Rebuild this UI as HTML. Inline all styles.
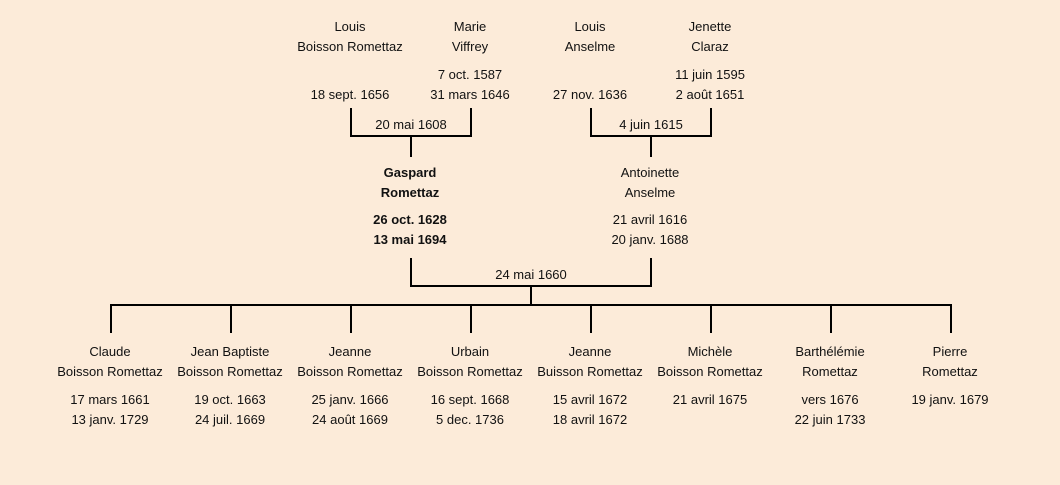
<!DOCTYPE html>
<html><head><meta charset="utf-8"><style>
body{margin:0;width:1060px;height:485px;background:#fcebd9;position:relative;overflow:hidden;font-family:"Liberation Sans",sans-serif;font-size:13px;color:#111}
.t{position:absolute;width:160px;margin-left:-80px;text-align:center;line-height:20px;white-space:nowrap}
.b{font-weight:bold}
svg{position:absolute;left:0;top:0}
</style></head><body>
<svg width="1060" height="485"><g stroke="#000" stroke-width="2" fill="none">
<polyline points="351,108 351,136 471,136 471,108"/><line x1="411" y1="136" x2="411" y2="157"/>
<polyline points="591,108 591,136 711,136 711,108"/><line x1="651" y1="136" x2="651" y2="157"/>
<polyline points="411,258 411,286 651,286 651,258"/><line x1="531" y1="286" x2="531" y2="305"/>
<line x1="110" y1="305" x2="952" y2="305"/>
<line x1="111" y1="305" x2="111" y2="333"/><line x1="231" y1="305" x2="231" y2="333"/><line x1="351" y1="305" x2="351" y2="333"/><line x1="471" y1="305" x2="471" y2="333"/><line x1="591" y1="305" x2="591" y2="333"/><line x1="711" y1="305" x2="711" y2="333"/><line x1="831" y1="305" x2="831" y2="333"/><line x1="951" y1="305" x2="951" y2="333"/>
</g></svg>
<div class="t" style="left:350px;top:17px">Louis<br>Boisson Romettaz</div>
<div class="t" style="left:350px;top:85px">18 sept. 1656</div>
<div class="t" style="left:470px;top:17px">Marie<br>Viffrey</div>
<div class="t" style="left:470px;top:65px">7 oct. 1587<br>31 mars 1646</div>
<div class="t" style="left:590px;top:17px">Louis<br>Anselme</div>
<div class="t" style="left:590px;top:85px">27 nov. 1636</div>
<div class="t" style="left:710px;top:17px">Jenette<br>Claraz</div>
<div class="t" style="left:710px;top:65px">11 juin 1595<br>2 août 1651</div>
<div class="t" style="left:411px;top:115px">20 mai 1608</div>
<div class="t" style="left:651px;top:115px">4 juin 1615</div>
<div class="t b" style="left:410px;top:163px">Gaspard<br>Romettaz</div>
<div class="t b" style="left:410px;top:210px">26 oct. 1628<br>13 mai 1694</div>
<div class="t" style="left:650px;top:163px">Antoinette<br>Anselme</div>
<div class="t" style="left:650px;top:210px">21 avril 1616<br>20 janv. 1688</div>
<div class="t" style="left:531px;top:265px">24 mai 1660</div>
<div class="t" style="left:110px;top:342px">Claude<br>Boisson Romettaz</div>
<div class="t" style="left:110px;top:390px">17 mars 1661<br>13 janv. 1729</div>
<div class="t" style="left:230px;top:342px">Jean Baptiste<br>Boisson Romettaz</div>
<div class="t" style="left:230px;top:390px">19 oct. 1663<br>24 juil. 1669</div>
<div class="t" style="left:350px;top:342px">Jeanne<br>Boisson Romettaz</div>
<div class="t" style="left:350px;top:390px">25 janv. 1666<br>24 août 1669</div>
<div class="t" style="left:470px;top:342px">Urbain<br>Boisson Romettaz</div>
<div class="t" style="left:470px;top:390px">16 sept. 1668<br>5 dec. 1736</div>
<div class="t" style="left:590px;top:342px">Jeanne<br>Buisson Romettaz</div>
<div class="t" style="left:590px;top:390px">15 avril 1672<br>18 avril 1672</div>
<div class="t" style="left:710px;top:342px">Michèle<br>Boisson Romettaz</div>
<div class="t" style="left:710px;top:390px">21 avril 1675</div>
<div class="t" style="left:830px;top:342px">Barthélémie<br>Romettaz</div>
<div class="t" style="left:830px;top:390px">vers 1676<br>22 juin 1733</div>
<div class="t" style="left:950px;top:342px">Pierre<br>Romettaz</div>
<div class="t" style="left:950px;top:390px">19 janv. 1679</div>
</body></html>
